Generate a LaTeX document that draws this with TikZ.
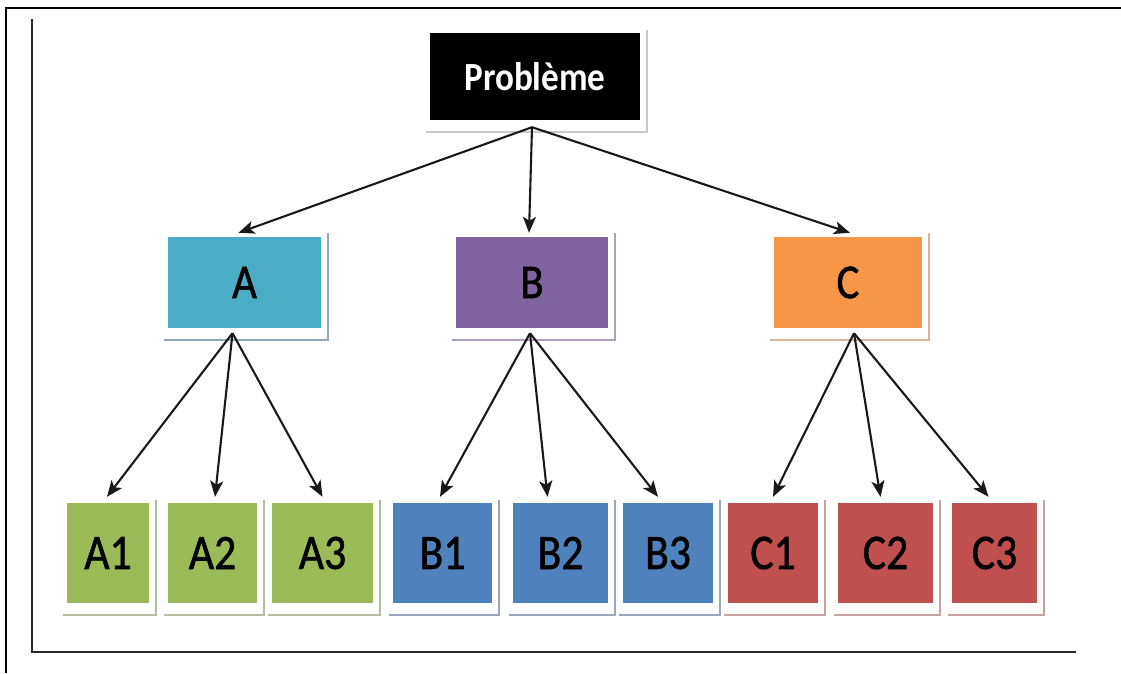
\documentclass[tikz,border=0pt]{standalone}
\usepackage{fontspec}
\setmainfont{Carlito}
\newfontfamily\lblfont{Carlito}[FakeBold=1.2]
\usetikzlibrary{arrows.meta}
\definecolor{acol}{HTML}{4BACC6}
\definecolor{ashd}{HTML}{8FAAB6}
\definecolor{bcol}{HTML}{8064A2}
\definecolor{bshd}{HTML}{ADA2BC}
\definecolor{ccol}{HTML}{F79646}
\definecolor{cshd}{HTML}{D9B49A}
\definecolor{gcol}{HTML}{9BBB59}
\definecolor{gshd}{HTML}{B3BDA0}
\definecolor{lcol}{HTML}{4F81BD}
\definecolor{lshd}{HTML}{9AA8BE}
\definecolor{rcol}{HTML}{C0504D}
\definecolor{rshd}{HTML}{C9A2A2}
\definecolor{pshd}{HTML}{C8C8C8}
\definecolor{framecol}{HTML}{2A2A2A}
\newcommand{\boxshade}[3]{\draw[#2, line width=2.5pt] ([xshift=-4pt,yshift=-12pt]#1.south west) -- ([xshift=7pt,yshift=-12pt]#1.south east) -- ([xshift=7pt,yshift=#3]#1.north east);}
\newcommand{\tall}[1]{\scalebox{0.95}[1.08]{#1}}
\begin{document}
\begin{tikzpicture}[x=1pt,y=-1pt,
  box/.style={rectangle, inner sep=0pt, draw=none, text=black},
  midbox/.style={box, minimum height=91pt, font=\fontsize{45}{48}\lblfont},
  lowbox/.style={box, minimum height=100pt, font=\fontsize{46}{48}\lblfont},
  arr/.style={-{Stealth[length=16pt,width=13pt,inset=4pt]}, line width=2.1pt, black!90},
  frameline/.style={line width=2.8pt, framecol}]
\useasboundingbox (0,0) rectangle (1121,673);
% frames
\draw[line width=2.6pt, black] (5,8) -- (1121,8);
\draw[line width=2.6pt, black] (6,8) -- (6,673);
\draw[frameline] (32,19) -- (32,652) -- (1076,652);
% top
\node[box, fill=black, text=white, minimum width=210pt, minimum height=87pt,
  font=\fontsize{37}{40}\selectfont\bfseries] (P) at (535,76.5) {\tall{Problème}};
% middle
\node[midbox, fill=acol, minimum width=153pt] (A) at (244.5,282.5) {\tall{A}};
\node[midbox, fill=bcol, minimum width=152pt] (B) at (532,282.5) {\tall{B}};
\node[midbox, fill=ccol, minimum width=148pt] (C) at (848,282.5) {\tall{C}};
% bottom
\node[lowbox, fill=gcol, minimum width=82pt] (A1) at (108,553) {\tall{A1}};
\node[lowbox, fill=gcol, minimum width=89pt] (A2) at (212.5,553) {\tall{A2}};
\node[lowbox, fill=gcol, minimum width=101pt] (A3) at (322.5,553) {\tall{A3}};
\node[lowbox, fill=lcol, minimum width=99pt] (B1) at (442.5,553) {\tall{B1}};
\node[lowbox, fill=lcol, minimum width=95pt] (B2) at (560.5,553) {\tall{B2}};
\node[lowbox, fill=lcol, minimum width=90pt] (B3) at (668,553) {\tall{B3}};
\node[lowbox, fill=rcol, minimum width=90pt] (C1) at (773,553) {\tall{C1}};
\node[lowbox, fill=rcol, minimum width=95pt] (C2) at (885.5,553) {\tall{C2}};
\node[lowbox, fill=rcol, minimum width=85pt] (C3) at (994.5,553) {\tall{C3}};
% shadows
\boxshade{P}{pshd}{3pt}
\boxshade{A}{ashd}{4pt}
\boxshade{B}{bshd}{4pt}
\boxshade{C}{cshd}{4pt}
\boxshade{A1}{gshd}{3pt}
\boxshade{A2}{gshd}{3pt}
\boxshade{A3}{gshd}{3pt}
\boxshade{B1}{lshd}{3pt}
\boxshade{B2}{lshd}{3pt}
\boxshade{B3}{lshd}{3pt}
\boxshade{C1}{rshd}{3pt}
\boxshade{C2}{rshd}{3pt}
\boxshade{C3}{rshd}{3pt}
% arrows
\draw[arr] ([xshift=-3pt,yshift=-7pt]P.south) -- ([xshift=-6pt,yshift=4pt]A.north);
\draw[arr] ([xshift=-3pt,yshift=-7pt]P.south) -- ([xshift=-3pt,yshift=4pt]B.north);
\draw[arr] ([xshift=-3pt,yshift=-7pt]P.south) -- ([xshift=2pt,yshift=4pt]C.north);
\draw[arr] ([xshift=-12pt,yshift=-5pt]A.south) -- ([xshift=-1pt,yshift=6pt]A1.north);
\draw[arr] ([xshift=-12pt,yshift=-5pt]A.south) -- ([xshift=2.5pt,yshift=6pt]A2.north);
\draw[arr] ([xshift=-12pt,yshift=-5pt]A.south) -- ([yshift=6pt]A3.north);
\draw[arr] ([xshift=-2pt,yshift=-5pt]B.south) -- ([xshift=-2.5pt,yshift=6pt]B1.north);
\draw[arr] ([xshift=-2pt,yshift=-5pt]B.south) -- ([xshift=-13pt,yshift=6pt]B2.north);
\draw[arr] ([xshift=-2pt,yshift=-5pt]B.south) -- ([xshift=-10pt,yshift=6pt]B3.north);
\draw[arr] ([xshift=6pt,yshift=-5pt]C.south) -- ([yshift=6pt]C1.north);
\draw[arr] ([xshift=6pt,yshift=-5pt]C.south) -- ([xshift=-5pt,yshift=6pt]C2.north);
\draw[arr] ([xshift=6pt,yshift=-5pt]C.south) -- ([xshift=-6pt,yshift=6pt]C3.north);
\end{tikzpicture}
\end{document}
